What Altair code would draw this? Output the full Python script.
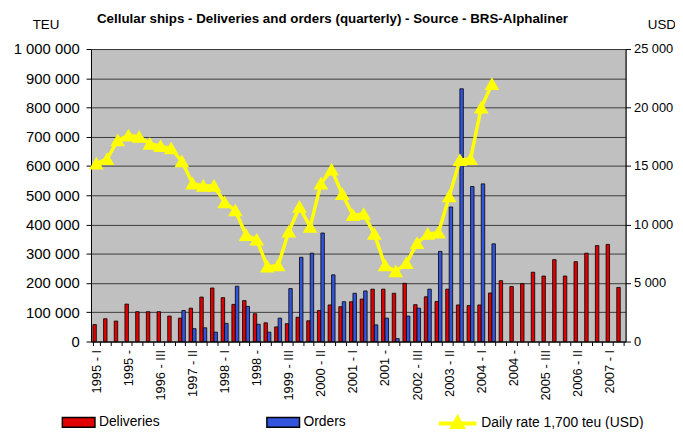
import altair as alt
import pandas as pd

years = list(range(1995, 2008))
romans = ["I", "II", "III", "IV"]
quarters = [f"{y} - {r}" for y in years for r in romans][:50]

# Deliveries (TEU) per quarter, 1995-I .. 2007-II
deliveries = [58000, 78000, 70000, 128000, 102000, 102000, 102000, 87000, 80000, 114000,
              152000, 183000, 150000, 127000, 140000, 95000, 64000, 50000, 61000, 83000,
              71000, 106000, 125000, 119000, 136000, 145000, 179000, 179000, 165000, 199000,
              126000, 153000, 137000, 179000, 125000, 123000, 125000, 166000, 208000, 188000,
              198000, 237000, 224000, 280000, 224000, 273000, 302000, 328000, 332000, 185000]

# Orders (TEU) per quarter (None = no bar)
orders = [None, None, None, None, None, None, None, None, 106000, 44000,
          47000, 32000, 62000, 189000, 120000, 59000, 32000, 80000, 181000, 288000,
          302000, 371000, 228000, 136000, 165000, 173000, 57000, 80000, 10000, 87000,
          114000, 179000, 308000, 460000, 864000, 530000, 539000, 334000, None, None,
          None, None, None, None, None, None, None, None, None, None]

# Daily rate, 1,700 teu ship (USD), 1995-I .. 2004-II
daily_rate = [15200, 15600, 17200, 17600, 17500, 16900, 16700, 16500, 15400, 13500,
              13300, 13300, 11900, 11200, 9100, 8700, 6400, 6500, 9400, 11500,
              9800, 13500, 14700, 12600, 10800, 10900, 9200, 6500, 6000, 6700,
              8400, 9200, 9300, 12400, 15500, 15600, 20000, 22000]

tick_quarters = ["1995 - I", "1995 - IV", "1996 - III", "1997 - II", "1998 - I", "1998 - IV",
                 "1999 - III", "2000 - II", "2001 - I", "2001 - IV", "2002 - III", "2003 - II",
                 "2004 - I", "2004 - IV", "2005 - III", "2006 - II", "2007 - I"]
tick_labels = ["1995 - I", "1995 - ", "1996 - III", "1997 - II", "1998 - I", "1998 - ",
               "1999 - III", "2000 - II", "2001 - I", "2001 - ", "2002 - III", "2003 - II",
               "2004 - I", "2004 - ", "2005 - III", "2006 - II", "2007 - I"]

series_names = ["Deliveries", "Orders"]
series_colors = ["#e00000", "#3355dd"]
rate_name = "Daily rate 1,700 teu (USD)"

rows = []
for q, d, o in zip(quarters, deliveries, orders):
    rows.append({"quarter": q, "series": "Deliveries", "teu": d})
    if o is not None:
        rows.append({"quarter": q, "series": "Orders", "teu": o})
bars_df = pd.DataFrame(rows)

line_df = pd.DataFrame({
    "quarter": quarters[:len(daily_rate)],
    "rate": daily_rate,
    "rate_series": [rate_name] * len(daily_rate),
})

def js_list(values):
    return "[" + ",".join("'" + v + "'" for v in values) + "]"

x_label_expr = (
    f"indexof({js_list(tick_quarters)}, datum.value) >= 0 ? "
    f"{js_list(tick_labels)}[indexof({js_list(tick_quarters)}, datum.value)] : ''"
)
space_fmt = "join(split(format(datum.value, ','), ','), ' ')"

x_enc = alt.X(
    "quarter:N",
    sort=quarters,
    scale=alt.Scale(domain=quarters, paddingInner=0.35, paddingOuter=0.175),
    axis=alt.Axis(
        title=None, labelAngle=-90, labelExpr=x_label_expr, tickBand="extent",
        tickSize=4, tickColor="black", domainColor="black", labelFontSize=13,
        labelColor="black", labelPadding=4, grid=False,
    ),
)

bars = alt.Chart(bars_df).mark_bar(stroke="black", strokeWidth=0.8).encode(
    x=x_enc,
    xOffset=alt.XOffset("series:N", scale=alt.Scale(domain=series_names)),
    y=alt.Y(
        "teu:Q",
        scale=alt.Scale(domain=[0, 1000000], nice=False),
        axis=alt.Axis(
            values=list(range(0, 1000001, 100000)), labelExpr=space_fmt,
            grid=True, gridColor="#3a3a3a", gridWidth=1, domainColor="black",
            tickColor="black", tickSize=5, labelFontSize=15, labelColor="black",
            labelPadding=7, title="TEU", titleAngle=0, titleX=-46, titleY=-21,
            titleAlign="center", titleBaseline="alphabetic", titleFontWeight="normal",
            titleFontSize=13.5, titleColor="black",
        ),
    ),
    fill=alt.Fill(
        "series:N",
        scale=alt.Scale(domain=series_names, range=series_colors),
        legend=alt.Legend(
            title=None, orient="none", legendX=-30, legendY=360, direction="horizontal",
            symbolType="M-1,-0.3H1V0.3H-1Z", symbolSize=1089, symbolStrokeColor="black",
            symbolStrokeWidth=1.5, symbolOpacity=1, labelFontSize=14, labelColor="black",
            columnPadding=105, labelOffset=3,
        ),
    ),
)

line = alt.Chart(line_df).mark_line(
    strokeWidth=3.5,
    point=alt.OverlayMarkDef(shape="triangle-up", filled=True, fill="#ffff00", size=130, opacity=1),
).encode(
    x=x_enc,
    y=alt.Y(
        "rate:Q",
        scale=alt.Scale(domain=[0, 25000], nice=False),
        axis=alt.Axis(
            orient="right", values=list(range(0, 25001, 5000)), labelExpr=space_fmt,
            grid=False, domainColor="black", tickColor="black", tickSize=5,
            labelFontSize=13, labelColor="black", labelPadding=3,
            title="USD", titleAngle=0, titleX=22, titleY=-21, titleAlign="left",
            titleBaseline="alphabetic", titleFontWeight="normal", titleFontSize=13.5,
            titleColor="black",
        ),
    ),
    stroke=alt.Stroke(
        "rate_series:N",
        scale=alt.Scale(domain=[rate_name], range=["#ffff00"]),
        legend=alt.Legend(
            title=None, orient="none", legendX=350, legendY=358,
            symbolType="M-1,0H1M-0.3,0.25L0,-0.3L0.3,0.25Z", symbolSize=1444,
            symbolStrokeWidth=4, symbolFillColor="#ffff00", symbolOpacity=1,
            labelFontSize=14, labelColor="black", labelOffset=3, labelLimit=300,
        ),
    ),
)

chart = alt.layer(bars, line).resolve_scale(y="independent").properties(
    width=541,
    height=296,
    autosize=alt.AutoSizeParams(type="none"),
    padding={"left": 84, "top": 39, "right": 50, "bottom": 86},
    title=alt.TitleParams(
        text="Cellular ships - Deliveries and orders (quarterly) - Source - BRS-Alphaliner",
        anchor="start", frame="group", dx=6, fontSize=13.5, fontWeight="bold",
        color="black", offset=-8,
    ),
).configure(
    font="Liberation Sans",
    background="white",
).configure_view(
    fill="#c0c0c0", stroke="#808080", strokeWidth=1,
)

chart.save("out.html", embed_options={"renderer": "svg", "actions": False})
